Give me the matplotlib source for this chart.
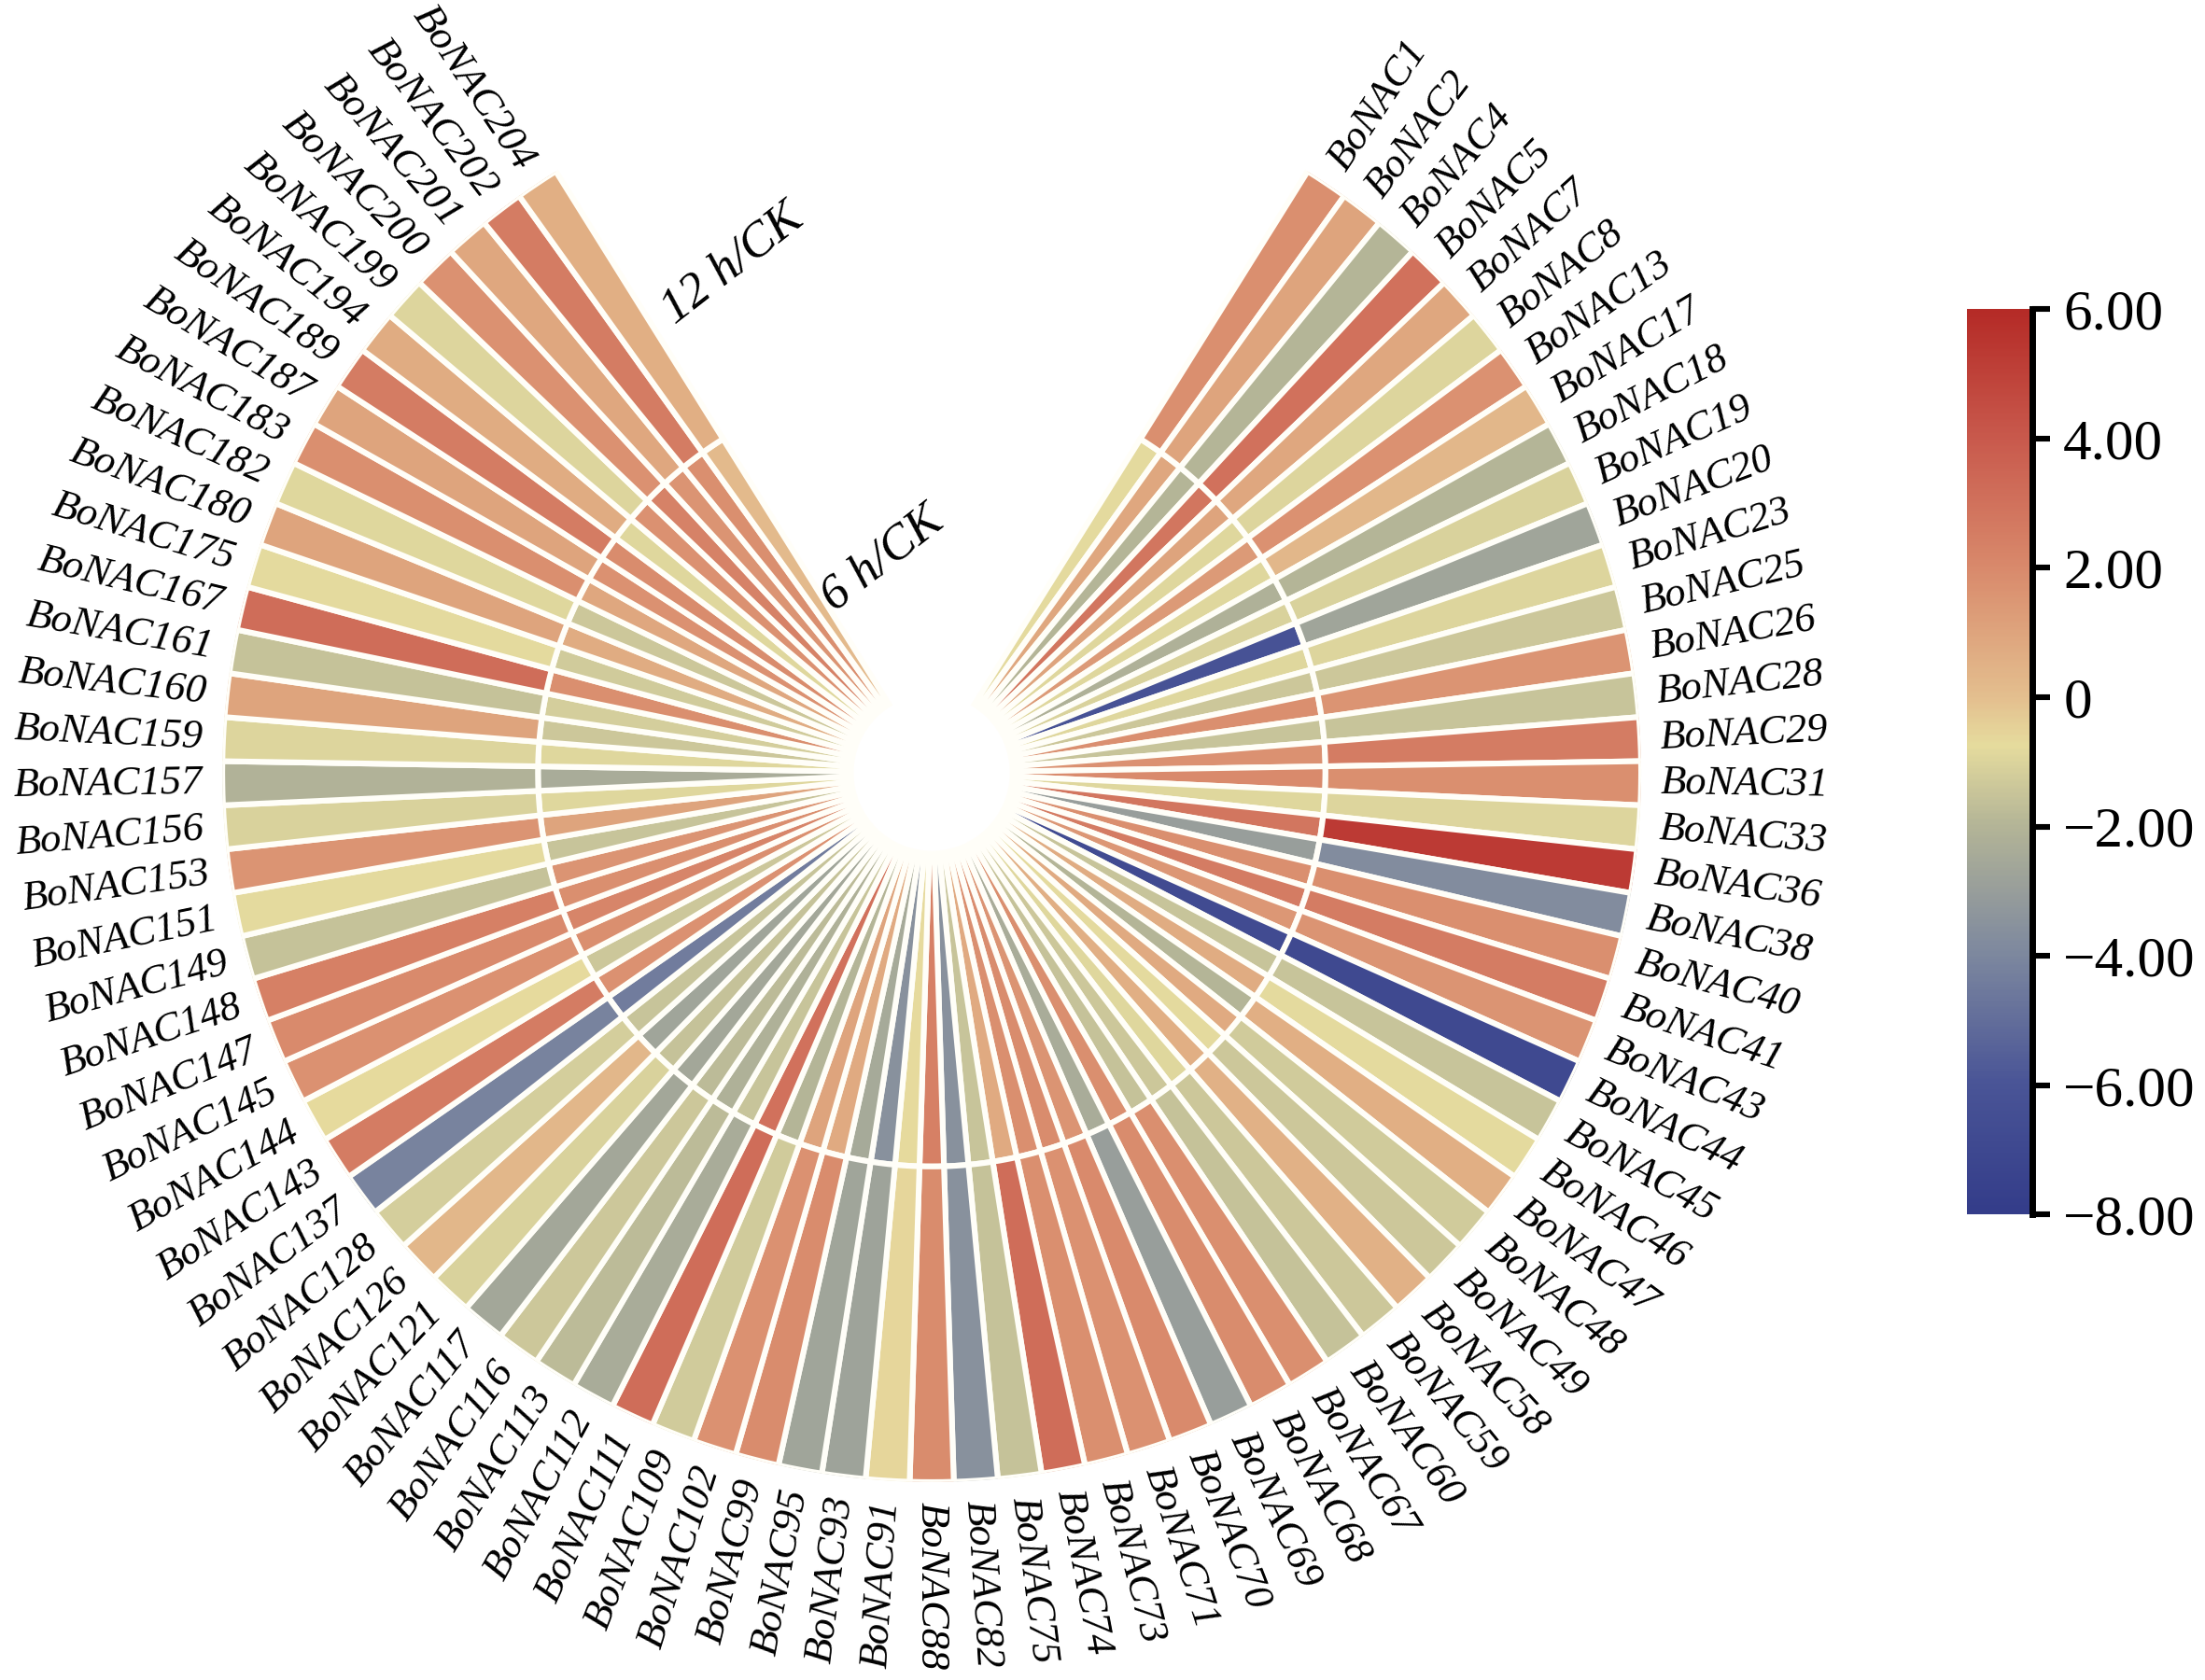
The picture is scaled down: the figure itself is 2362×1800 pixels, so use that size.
import numpy as np
import matplotlib.pyplot as plt
from matplotlib.colors import LinearSegmentedColormap, Normalize

genes = [1, 2, 4, 5, 7, 8, 13, 17, 18, 19, 20, 23, 25, 26, 28, 29, 31, 33, 36, 38,
         40, 41, 43, 44, 45, 46, 47, 48, 49, 58, 59, 60, 67, 68, 69, 70, 71, 73, 74, 75,
         82, 88, 91, 93, 95, 99, 102, 109, 111, 112, 113, 116, 117, 121, 126, 128, 137, 143, 144, 145,
         147, 148, 149, 151, 153, 156, 157, 159, 160, 161, 167, 175, 180, 182, 183, 187, 189, 194, 199, 200,
         201, 202, 204]
labels = ["BoNAC%d" % g for g in genes]

# 6 h/CK (inner ring)
h6 = [-0.8, 0.9, -2.0, 2.8, 1.0, -0.9, 1.4, -0.9, -2.2, -1.1,
      -6.2, -0.9, -1.4, 1.8, -1.5, 1.7, 2.0, -0.9, 2.8, -3.0,
      1.8, 2.6, 1.5, -6.8, -1.5, 0.7, -2.0, 0.8, -0.8, 0.6,
      -0.9, -1.4, -1.6, 1.8, -2.4, 1.6, 1.9, 1.8, 0.8, -1.5,
      -3.6, 2.4, -0.7, -3.6, -2.5, 0.8, 1.0, -2.0, 3.0, -1.5,
      -2.2, -1.8, -2.6, -1.6, -2.7, -1.5, -4.5, 1.7, -1.4, 1.8,
      2.2, 1.8, 1.6, -1.5, 1.0, -0.9, -2.4, -0.9, -1.4, -1.2,
      1.8, -1.3, 0.7, -1.4, 0.9, 1.7, 1.9, -0.9, 1.7, 2.3,
      1.6, 1.8, 0.2]

# 12 h/CK (outer ring)
h12 = [1.8, 1.0, -2.0, 3.0, 0.9, -1.0, 1.7, 0.3, -2.0, -1.1,
       -2.7, -1.0, -1.4, 1.6, -1.5, 2.6, 1.8, -1.0, 5.3, -3.8,
       1.8, 2.6, 1.6, -7.0, -1.5, -0.8, 0.6, -1.3, -1.4, 0.5,
       -1.4, -1.6, 1.8, 1.9, -3.0, 2.0, 1.7, 1.8, 3.2, -1.6,
       -3.6, 1.9, -0.6, -2.8, -2.7, 1.9, 1.7, -1.3, 3.2, -2.4,
       -1.8, -1.4, -2.6, -1.1, 0.3, -1.2, -4.2, 2.6, -0.7, 1.7,
       2.0, 2.4, -1.6, -0.8, 1.6, -1.1, -2.1, -1.0, 1.0, -1.6,
       3.2, -0.8, 1.0, -0.9, 1.8, 1.0, 2.6, 0.7, -1.0, 1.7,
       0.9, 2.6, 0.6]

cb_ticks = [-8, -6, -4, -2, 0, 2, 4, 6]
cb_ticklabels = ["\u22128.00", "\u22126.00", "\u22124.00", "\u22122.00", "0", "2.00", "4.00", "6.00"]

vmin, vmax = -8, 6
nodes = [(-8, "#343d8a"), (-6, "#4a5597"), (-4, "#7d889f"), (-2, "#b4b597"),
         (-0.75, "#e6dc9e"), (0, "#e4bf8f"), (2, "#d98a6c"), (4, "#c95a4d"), (6, "#b52b27")]
cmap = LinearSegmentedColormap.from_list(
    "nac", [((v - vmin) / (vmax - vmin), c) for v, c in nodes])
norm = Normalize(vmin, vmax)

serif = ["Liberation Serif", "DejaVu Serif"]
edge = "#fffef8"

fig = plt.figure(figsize=(11.81, 9.0), dpi=200)
ax = fig.add_axes([0.1008, 0.1178, 0.6435, 0.8444], projection="polar")
ax.set_theta_zero_location("N")
ax.set_theta_direction(-1)

start = 32.0
step = 296.0 / len(genes)
theta = np.deg2rad(start + (np.arange(len(genes)) + 0.5) * step)
width = np.deg2rad(step)
r_mid = 0.555

ax.bar(theta, r_mid, width=width, bottom=0.0, color=cmap(norm(h6)),
       edgecolor=edge, linewidth=2.2)
ax.bar(theta, 1.0 - r_mid, width=width, bottom=r_mid, color=cmap(norm(h12)),
       edgecolor=edge, linewidth=2.2)
# white hub like the reference
ax.bar(0, 0.11, width=2 * np.pi, bottom=0, color="white", edgecolor="none")

for t, lab in zip(theta, labels):
    deg = np.rad2deg(t)
    if deg <= 180.01:
        rot, ha = 90 - deg, "left"
    else:
        rot, ha = 270 - deg, "right"
    ax.text(t, 1.028, lab, rotation=rot, rotation_mode="anchor", ha=ha, va="center",
            fontsize=16, fontstyle="italic", family=serif)

ax.text(np.deg2rad(338.6), 0.77, "12 h/CK", rotation=38, rotation_mode="anchor",
        ha="center", va="center", fontsize=19, fontstyle="italic", family=serif)
ax.text(np.deg2rad(347.0), 0.31, "6 h/CK", rotation=38, rotation_mode="anchor",
        ha="center", va="center", fontsize=19, fontstyle="italic", family=serif)

ax.set_ylim(0, 1)
ax.set_axis_off()

# colour bar
cax = fig.add_axes([0.892, 0.277, 0.0296, 0.539])
grad = np.linspace(vmin, vmax, 400).reshape(-1, 1)
cax.imshow(grad, aspect="auto", cmap=cmap, norm=norm, origin="lower",
           extent=[0, 1, vmin, vmax])
cax.set_xticks([])
cax.yaxis.tick_right()
cax.set_yticks(cb_ticks)
cax.set_yticklabels(cb_ticklabels, family=serif, fontsize=22)
cax.tick_params(axis="y", length=7, width=2.2, pad=5)
for s in ["left", "top", "bottom"]:
    cax.spines[s].set_visible(False)
cax.spines["right"].set_linewidth(2.5)

fig.savefig("out.png", dpi=200)
